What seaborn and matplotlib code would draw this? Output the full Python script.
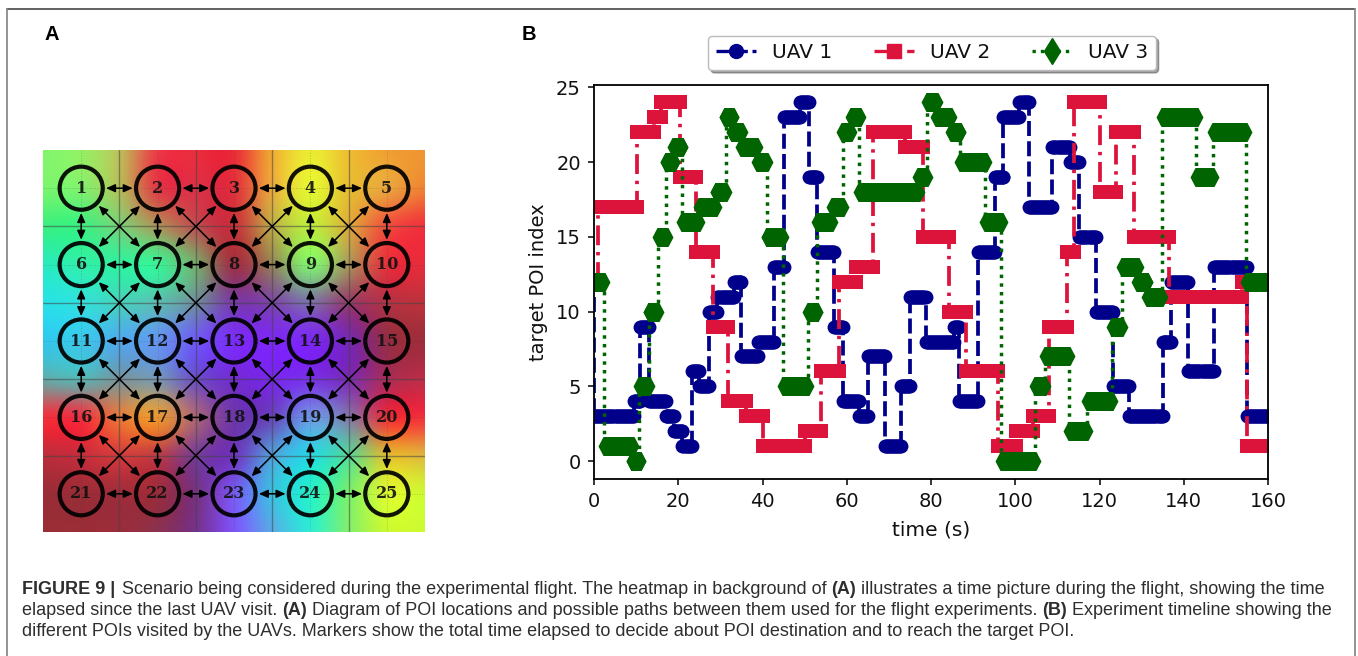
import numpy as np
import pandas as pd
import matplotlib
matplotlib.use("Agg")
import matplotlib.pyplot as plt
from matplotlib.lines import Line2D
from matplotlib.path import Path
from matplotlib.patches import Circle
import seaborn as sns

# ---------------- data: panel B (timeline) ----------------
series_names = ["UAV 1", "UAV 2", "UAV 3"]
uav1_poi = [3,4,9,4,3,2,1,6,5,10,11,12,7,8,13,23,24,19,14,9,4,3,7,1,5,11,8,9,4,14,19,23,24,17,21,20,15,10,5,3,8,12,6,13,3]
uav1_t = [0,9.5,11,13,17,19,21,23.2,24.9,27.2,29.3,33.2,35,39,42.8,45,48.8,51,53,57,59,63,65,69,72.8,75,78.7,85.5,86.7,91.2,
          95.2,97.2,101,103.2,108.8,113,115.2,119.1,123.1,126.9,135,137,141,147.2,155,160]
uav1_start = 11
uav2_poi = [17,22,23,24,19,14,9,4,3,1,2,6,12,13,22,21,15,10,6,1,2,3,9,14,24,18,22,15,11,12,1]
uav2_t = [1,10.3,14.2,15.9,20.3,24.3,28.3,31.9,36.2,40,50.2,53.8,58.1,62.1,66.2,73.9,78,84.2,88.2,95.8,
          100.2,104.2,107.9,112.2,113.9,120.1,123.9,128.1,136.4,153.8,155,160]
uav2_start = 12
uav3_poi = [12,1,0,5,10,15,20,21,16,17,18,23,22,21,20,15,5,10,16,17,22,23,18,19,24,23,22,20,16,0,5,7,2,4,9,13,12,11,23,19,22,12]
uav3_t = [0.4,2.4,9.3,10.7,13,15.2,17.2,18.8,20.9,24.9,28.9,31.3,32.7,35,38.7,41,44.8,50.8,53,56.5,59,61,63,77,79,
          81.3,84.8,86.9,92.9,96.7,104.7,107,112.8,117,123,125.3,129,131.3,134.8,143,147,154.8,160]
uav3_start = 12
x_ticks = [0,20,40,60,80,100,120,140,160]
y_ticks = [0,5,10,15,20,25]

# ---------------- data: panel A (background colours, 11x11 samples) ----------------
field_rgb = [
 [(130,245,110),(150,240,100),(190,190,90),(235,60,70),(235,45,60),(235,45,55),(240,170,50),(235,235,50),(240,190,50),(240,160,50),(240,150,50)],
 [(120,245,110),(130,240,110),(180,190,90),(225,60,70),(220,50,70),(225,50,60),(235,170,60),(230,245,50),(230,190,50),(235,165,60),(240,130,50)],
 [(60,240,130),(60,240,130),(120,210,120),(170,150,90),(190,80,80),(200,50,60),(190,170,70),(190,235,60),(220,170,60),(240,80,60),(240,50,60)],
 [(40,235,190),(50,240,170),(50,240,160),(60,240,150),(120,170,110),(160,50,70),(150,130,90),(130,240,110),(170,150,90),(230,50,60),(230,45,60)],
 [(40,225,230),(50,225,220),(70,210,190),(90,190,180),(110,140,160),(120,60,170),(125,70,170),(125,110,170),(150,60,110),(180,50,70),(190,50,60)],
 [(50,200,235),(60,200,235),(80,170,235),(100,150,240),(110,90,245),(125,45,250),(125,40,245),(125,40,245),(120,40,180),(150,45,70),(160,45,60)],
 [(100,170,170),(90,180,180),(120,150,160),(120,150,180),(110,80,200),(115,45,210),(120,40,235),(120,50,230),(125,45,180),(170,45,90),(190,45,70)],
 [(240,50,60),(240,50,65),(230,120,60),(235,150,50),(170,100,120),(110,55,170),(105,70,190),(110,150,230),(130,120,170),(235,50,60),(240,50,60)],
 [(190,45,60),(200,45,60),(210,60,60),(190,60,70),(120,60,150),(110,55,190),(80,160,220),(40,215,225),(90,215,150),(220,190,50),(225,180,60)],
 [(155,45,55),(155,45,55),(160,45,60),(155,45,60),(120,50,130),(120,90,240),(60,190,225),(40,240,200),(120,240,110),(220,250,50),(205,250,50)],
 [(155,45,55),(155,45,55),(155,45,60),(140,50,80),(120,50,140),(125,85,245),(90,170,230),(50,235,210),(130,240,110),(200,250,50),(205,250,50)],
]
grid_size = 5

caption_lines = [
 [("FIGURE 9 | ", True), ("Scenario being considered during the experimental flight. The heatmap in background of ", False), ("(A)", True),
  (" illustrates a time picture during the flight, showing the time", False)],
 [("elapsed since the last UAV visit. ", False), ("(A)", True), (" Diagram of POI locations and possible paths between them used for the flight experiments. ", False),
  ("(B)", True), (" Experiment timeline showing the", False)],
 [("different POIs visited by the UAVs. Markers show the total time elapsed to decide about POI destination and to reach the target POI.", False)],
]

# ---------------- figure ----------------
W, H = 1358, 656
sns.set_theme(style="ticks")
plt.rcParams["font.family"] = ["DejaVu Sans"]
fig = plt.figure(figsize=(W/100, H/100), dpi=100, facecolor="white")

def fx(px): return px / W
def fy(py): return 1 - py / H

# frame round the top of the figure
for xs, ys, c in [((7,1355),(9,9),"#555555"), ((7,7),(9,656),"#8a8a8a"), ((1355,1355),(9,656),"#8a8a8a")]:
    fig.add_artist(Line2D([fx(x) for x in xs], [fy(y) for y in ys], color=c, lw=1.3))

# ---------------- panel B ----------------
axb = fig.add_axes([fx(594), fy(479), fx(1268-594), fy(84.5)-fy(479)])
hex_verts = [(-1,0),(-.5,.95),(.5,.95),(1,0),(.5,-.95),(-.5,-.95),(-1,0)]
hex_path = Path(hex_verts, closed=True)

styles = [
    dict(color="#00008b", ls=(0,(4,1.4)), lw=2.7, marker="o", s=100, pad=0.0, z=2.0, start=uav1_start, t=uav1_t, p=uav1_poi),
    dict(color="#dc143c", ls=(0,(5.3,1.8,0.9,1.8)), lw=2.7, marker="s", s=100, pad=0.0, z=2.2, start=uav2_start, t=uav2_t, p=uav2_poi),
    dict(color="#006400", ls=(0,(1,1.5)), lw=2.5, marker=hex_path, s=207, pad=0.9, z=2.4, start=uav3_start, t=uav3_t, p=uav3_poi),
]
for st in styles:
    t, p = st["t"], st["p"]
    xs, ys = [t[0]], [st["start"]]
    mx, my = [], []
    for i, v in enumerate(p):
        xs += [t[i], t[i+1]]
        ys += [v, v]
        a, b = t[i] + st["pad"], t[i+1] - st["pad"]
        if b <= a:
            a = b = (t[i] + t[i+1]) / 2
        pts = np.linspace(a, b, max(2, int((b-a)/0.25) + 2))
        mx += list(pts)
        my += [v] * len(pts)
    line_df = pd.DataFrame({"t": xs, "poi": ys})
    mark_df = pd.DataFrame({"t": mx, "poi": my})
    n0 = len(axb.lines)
    sns.lineplot(data=line_df, x="t", y="poi", estimator=None, sort=False, errorbar=None, color=st["color"], lw=st["lw"], ax=axb, zorder=st["z"])
    axb.lines[n0].set_linestyle(st["ls"])
    sns.scatterplot(data=mark_df, x="t", y="poi", color=st["color"], marker=st["marker"], s=st["s"], linewidth=0, ax=axb, zorder=st["z"]+0.1)

axb.set_xlim(0, 160)
axb.set_ylim(-1.2, 25.2)
axb.set_xticks(x_ticks)
axb.set_yticks(y_ticks)
axb.tick_params(labelsize=14, width=1.1, length=4, color="black", labelcolor="#111111", pad=5.5)
axb.set_xlabel("time (s)", fontsize=14.5, color="#111111", labelpad=6.5)
axb.set_ylabel("target POI index", fontsize=14, color="#111111", labelpad=5.5)
for sp in axb.spines.values():
    sp.set_visible(True); sp.set_linewidth(1.3); sp.set_color("black")

handles = [
    Line2D([], [], color="#00008b", ls=(0,(4,1.4)), lw=2.4, marker="o", ms=10),
    Line2D([], [], color="#dc143c", ls=(0,(5.3,1.8,0.9,1.8)), lw=2.4, marker="s", ms=10),
    Line2D([], [], color="#006400", ls=(0,(1,1.5)), lw=2.4, marker="d", ms=13.5),
]
axb.legend(handles, series_names, ncol=3, loc="center", bbox_to_anchor=(fx(932), fy(53)), bbox_transform=fig.transFigure,
           fontsize=14.5, frameon=True, fancybox=True, shadow=True, framealpha=1, facecolor="white", edgecolor="#bbbbbb",
           numpoints=1, handlelength=2, handletextpad=0.8, columnspacing=2.05, borderpad=0.38, labelcolor="#111111")

# ---------------- panel A ----------------
axa = fig.add_axes([fx(43), fy(532), fx(425-43), fy(150)-fy(532)])
img = np.array(field_rgb, dtype=float) / 255
axa.imshow(img, extent=(-0.25, 5.25, 5.25, -0.25), interpolation="catrom", aspect="auto")
axa.set_xlim(0, grid_size); axa.set_ylim(grid_size, 0)
axa.set_xticks([]); axa.set_yticks([])
for sp in axa.spines.values():
    sp.set_visible(False)
for g in range(1, grid_size):
    axa.axvline(g, color="#444444", alpha=0.55, lw=1.0)
    axa.axhline(g, color="#444444", alpha=0.55, lw=1.0)
for g in range(grid_size):
    axa.axvline(g+0.5, color="#333333", alpha=0.25, lw=0.7, ls=":")
    axa.axhline(g+0.5, color="#333333", alpha=0.25, lw=0.7, ls=":")

def link(r0, c0, r1, c1):
    x0, y0, x1, y1 = c0+.5, r0+.5, c1+.5, r1+.5
    d = np.hypot(x1-x0, y1-y0)
    ux, uy = (x1-x0)/d, (y1-y0)/d
    off = 0.325
    axa.annotate("", xy=(x1-ux*off, y1-uy*off), xytext=(x0+ux*off, y0+uy*off),
                 arrowprops=dict(arrowstyle="<|-|>,head_length=0.45,head_width=0.2", color="black", lw=1.1,
                                 shrinkA=0, shrinkB=0, mutation_scale=12))

for r in range(grid_size):
    for c in range(grid_size):
        if c < grid_size-1: link(r, c, r, c+1)
        if r < grid_size-1: link(r, c, r+1, c)
        if r < grid_size-1 and c < grid_size-1:
            link(r, c, r+1, c+1)
            link(r, c+1, r+1, c)
        axa.add_patch(Circle((c+.5, r+.5), 0.282, fill=False, ec="black", lw=3.0, alpha=0.92))
        axa.text(c+.5, r+.5, str(r*grid_size+c+1), ha="center", va="center", family="DejaVu Serif",
                 weight="bold", fontsize=11.5, color="#111111", alpha=0.9)

# ---------------- panel letters ----------------
fig.text(fx(44), fy(35), "A", fontsize=14.5, weight="bold", family="Liberation Sans", ha="left", va="center", color="black")
fig.text(fx(522), fy(35), "B", fontsize=14.5, weight="bold", family="Liberation Sans", ha="left", va="center", color="black")

# ---------------- caption ----------------
renderer = fig.canvas.get_renderer()
cap_y = [589.5, 610.5, 632]
for runs, py in zip(caption_lines, cap_y):
    px = 22
    for s, bold in runs:
        txt = fig.text(fx(px), fy(py), s, fontsize=12.93, family="Liberation Sans", weight="bold" if bold else "normal",
                       ha="left", va="center", color="#2e2e2e")
        nsp = len(s) - len(s.rstrip(" "))
        w = txt.get_window_extent(renderer).width
        px += w + (nsp * 1.5 if bold else 0)

fig.savefig("out.png", dpi=100)
